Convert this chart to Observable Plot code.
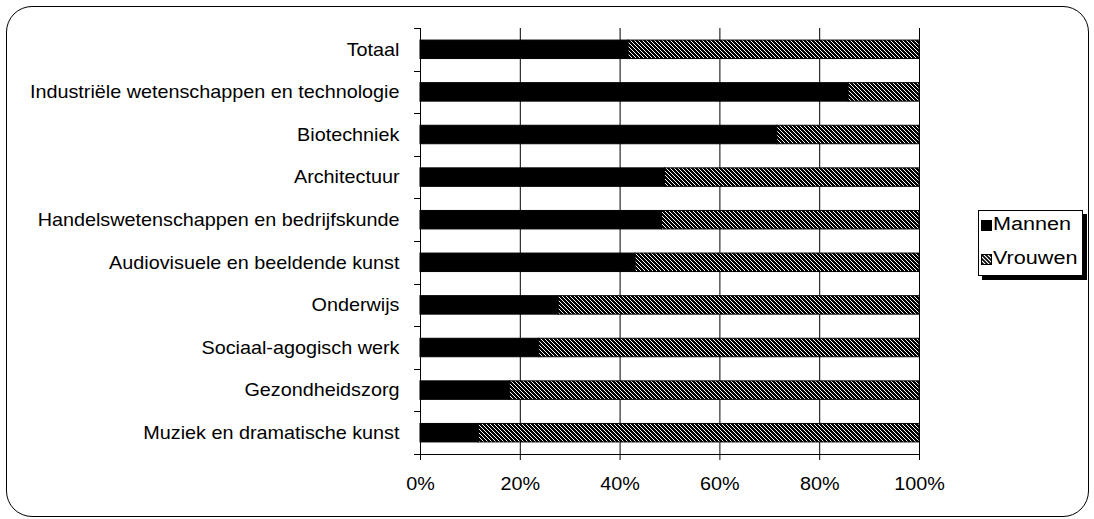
<!DOCTYPE html>
<html>
<head>
<meta charset="utf-8">
<script src="https://cdn.jsdelivr.net/npm/d3@7"></script>
<script src="https://cdn.jsdelivr.net/npm/@observablehq/plot@0.6"></script>
<style>
  html, body { margin: 0; padding: 0; background: #fff; }
  #wrap { position: relative; width: 1094px; height: 519px; overflow: hidden; font-family: "Liberation Sans", Arial, sans-serif; }
  #frame { position: absolute; left: 6px; top: 6px; width: 1083px; height: 511px; border: 1.5px solid #000; border-radius: 26px; box-sizing: border-box; pointer-events: none; }
  #chart { position: absolute; left: 0; top: 0; }
  #legend { position: absolute; left: 978px; top: 210px; width: 105px; height: 66px; border: 1px solid #000; background: #fff; box-shadow: 4px 4px 0 #000; box-sizing: border-box; font-size: 18px; color: #000; }
  .item { position: absolute; left: 2px; height: 20px; line-height: 20px; white-space: nowrap; }
  .item svg { vertical-align: -1px; }
  .item span { display: inline-block; transform: scaleX(1.2); transform-origin: 0 50%; margin-left: 1px; }
</style>
</head>
<body>
<div id="wrap">
  <div id="chart"></div>
  <div id="frame"></div>
  <div id="legend"></div>
</div>
<script>
const categories = [
  "Totaal",
  "Industriële wetenschappen en technologie",
  "Biotechniek",
  "Architectuur",
  "Handelswetenschappen en bedrijfskunde",
  "Audiovisuele en beeldende kunst",
  "Onderwijs",
  "Sociaal-agogisch werk",
  "Gezondheidszorg",
  "Muziek en dramatische kunst"
];
const mannen  = [41.7, 85.8, 71.5, 49.0, 48.4, 43.1, 27.7, 23.8, 17.9, 11.7];
const vrouwen = [58.3, 14.2, 28.5, 51.0, 51.6, 56.9, 72.3, 76.2, 82.1, 88.3];
const series = ["Mannen", "Vrouwen"];
const xTicks = [0, 20, 40, 60, 80, 100];

const data = [];
categories.forEach((c, i) => {
  data.push({cat: c, series: "Mannen", value: mannen[i]});
  data.push({cat: c, series: "Vrouwen", value: vrouwen[i]});
});

const W = 1094, H = 519;
const mt = 28, mb = 65, ml = 420, mr = 175;
const FONT = '"Liberation Sans", Arial, sans-serif';

function defsMark() {
  const defs = d3.create("svg:defs");
  const p = defs.append("pattern").attr("id", "hatch")
    .attr("patternUnits", "userSpaceOnUse").attr("width", 4).attr("height", 4);
  p.append("rect").attr("width", 4).attr("height", 4).attr("fill", "#fff");
  p.append("path").attr("d", "M-1,-1L5,5M3,-1L5,1M-1,3L1,5")
    .attr("stroke", "#000").attr("stroke-width", 1.6).attr("shape-rendering", "crispEdges");
  return defs.node();
}

function axesMark() {
  const g = d3.create("svg:g").attr("stroke", "#000").attr("stroke-width", 1).attr("shape-rendering", "crispEdges");
  const top = mt, bottom = H - mb, left = ml, right = W - mr;
  const n = categories.length;
  const step = (bottom - top) / n;
  g.append("line").attr("x1", left + 0.5).attr("x2", left + 0.5).attr("y1", top).attr("y2", bottom);
  g.append("line").attr("x1", left).attr("x2", right).attr("y1", bottom + 0.5).attr("y2", bottom + 0.5);
  for (let i = 0; i <= n; i++) {
    const y = Math.round(top + i * step) + 0.5;
    g.append("line").attr("x1", left - 6).attr("x2", left).attr("y1", y).attr("y2", y);
  }
  return g.node();
}

const chart = Plot.plot({
  width: W,
  height: H,
  marginTop: mt,
  marginBottom: mb,
  marginLeft: ml,
  marginRight: mr,
  style: {fontFamily: FONT, fontSize: "18px", color: "#000", background: "transparent", overflow: "visible"},
  x: {domain: [0, 100], ticks: xTicks, tickFormat: d => d + "%", tickSize: 6, tickPadding: 17, label: null},
  y: {domain: categories, paddingInner: 0.566, paddingOuter: 0.283, round: false, tickSize: 0, tickPadding: 21, label: null},
  color: {domain: series, range: ["#000", "url(#hatch)"]},
  marks: [
    defsMark,
    Plot.ruleX(xTicks.filter(d => d > 0), {stroke: "#000", strokeWidth: 1, strokeOpacity: 1}),
    Plot.barX(data, Plot.stackX({y: "cat", x: "value", fill: "series", order: series, stroke: "#000", strokeWidth: 1})),
    axesMark
  ]
});
document.getElementById("chart").appendChild(chart);

// widen the glyphs horizontally like the reference (anchor kept in place)
const SX = 1.1;
chart.querySelectorAll("text").forEach(t => {
  const b = t.getBBox();
  const anchor = getComputedStyle(t).textAnchor;
  const cx = anchor === "end" ? b.x + b.width : anchor === "middle" ? b.x + b.width / 2 : b.x;
  const prev = t.getAttribute("transform") || "";
  t.setAttribute("transform", `${prev} translate(${cx},0) scale(${SX},1) translate(${-cx},0)`.trim());
});

// legend
const legend = document.getElementById("legend");
const swatches = {
  Mannen: '<svg width="11" height="11"><rect x="0.5" y="0.5" width="10" height="10" fill="#000" stroke="#000"/></svg>',
  Vrouwen: '<svg width="11" height="11"><defs><pattern id="hatch2" patternUnits="userSpaceOnUse" width="4" height="4"><rect width="4" height="4" fill="#fff"/><path d="M-1,-1L5,5M3,-1L5,1M-1,3L1,5" stroke="#000" stroke-width="1.6"/></pattern></defs><rect x="0.5" y="0.5" width="10" height="10" fill="url(#hatch2)" stroke="#000"/></svg>'
};
series.forEach((s, i) => {
  const d = document.createElement("div");
  d.className = "item";
  d.style.top = (3 + i * 34) + "px";
  d.innerHTML = swatches[s] + "<span>" + s + "</span>";
  legend.appendChild(d);
});
</script>
</body>
</html>
